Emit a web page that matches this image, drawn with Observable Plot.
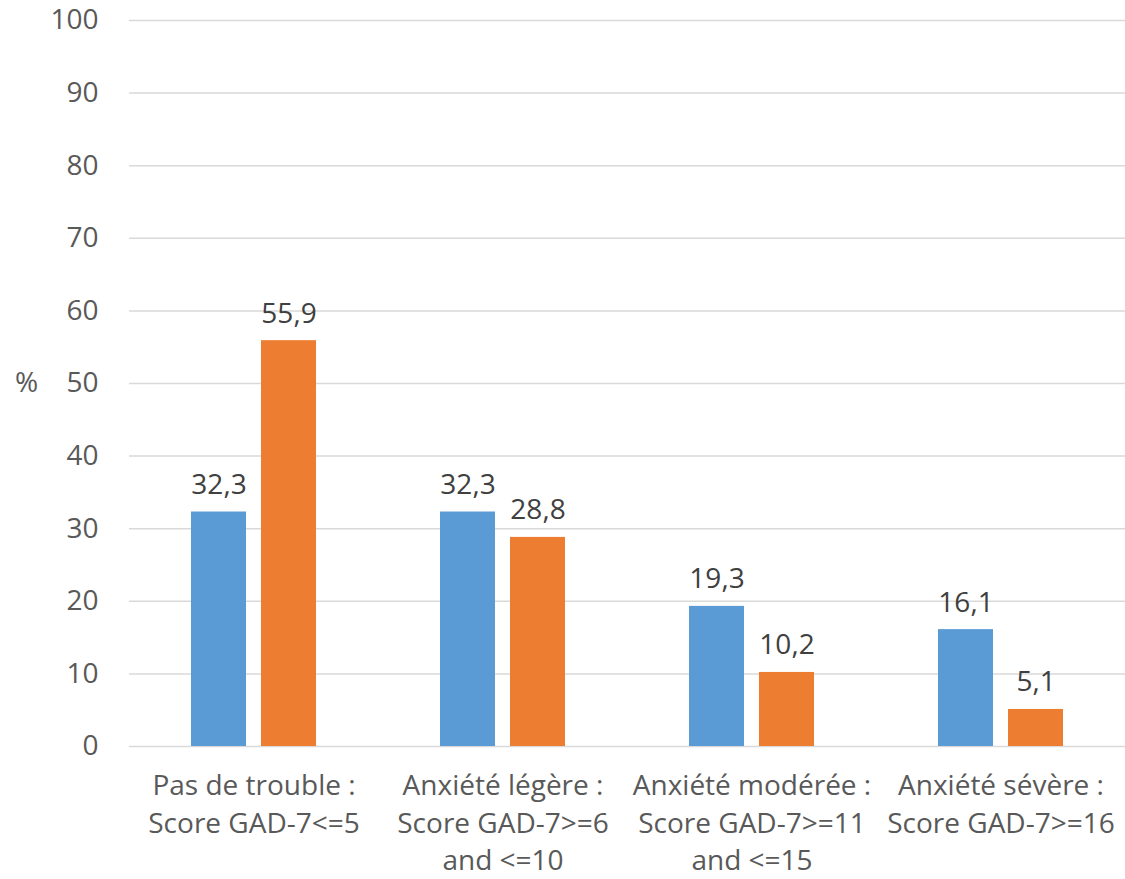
<!DOCTYPE html>
<html><head><meta charset="utf-8">
<script src="https://cdn.jsdelivr.net/npm/d3@7"></script>
<script src="https://cdn.jsdelivr.net/npm/@observablehq/plot@0.6"></script>
<style>html,body{margin:0;padding:0;background:#fff;overflow:hidden} svg{display:block}</style>
</head><body><div id="chart"></div>
<script>
const categories = [
  "Pas de trouble :\nScore GAD-7<=5",
  "Anxiété légère :\nScore GAD-7>=6\nand <=10",
  "Anxiété modérée :\nScore GAD-7>=11\nand <=15",
  "Anxiété sévère :\nScore GAD-7>=16"
];
const seriesNames = ["Série 1", "Série 2"];
const valuesSerie1 = [32.3, 32.3, 19.3, 16.1];
const valuesSerie2 = [55.9, 28.8, 10.2, 5.1];
const seriesColors = ["#5B9BD5", "#ED7D31"];
const yTicks = [0, 10, 20, 30, 40, 50, 60, 70, 80, 90, 100];
const yAxisLabel = "%";

const data = categories.flatMap((c, i) => [
  {category: c, series: seriesNames[0], value: valuesSerie1[i]},
  {category: c, series: seriesNames[1], value: valuesSerie2[i]}
]);
const fmt = v => v.toFixed(1).replace(".", ",");

const chart = Plot.plot({
  width: 1125, height: 879,
  marginTop: 20, marginBottom: 133, marginLeft: 128, marginRight: 0,
  style: {fontFamily: "'Open Sans', sans-serif", fontSize: "28px", color: "#595959", background: "#fff"},
  fx: {domain: categories, paddingInner: 0, paddingOuter: 0, label: null},
  x: {domain: seriesNames, paddingInner: 0.211, paddingOuter: 0.866, axis: null},
  y: {domain: [0, 100], ticks: yTicks, label: null},
  color: {domain: seriesNames, range: seriesColors},
  marks: [
    Plot.gridY(yTicks, {stroke: "#D9D9D9", strokeOpacity: 1, strokeWidth: 1.5}),
    Plot.axisY({ticks: yTicks, tickSize: 0, tickPadding: 31, label: null, fontSize: 28, fill: "#595959"}),
    Plot.axisFx({anchor: "bottom", tickSize: 0, tickPadding: 22, lineHeight: 1.34, label: null, fontSize: 28, fill: "#595959"}),
    Plot.barY(data, {fx: "category", x: "series", y: "value", fill: "series"}),
    Plot.text(data, {fx: "category", x: "series", y: "value", text: d => fmt(d.value),
      lineAnchor: "bottom", dy: -18, fill: "#404040", fontSize: 28}),
    Plot.text([yAxisLabel], {frameAnchor: "left", dx: -103, textAnchor: "middle", facet: "super",
      fill: "#595959", fontSize: 28})
  ]
});
document.getElementById("chart").append(chart);
</script>
</body></html>
